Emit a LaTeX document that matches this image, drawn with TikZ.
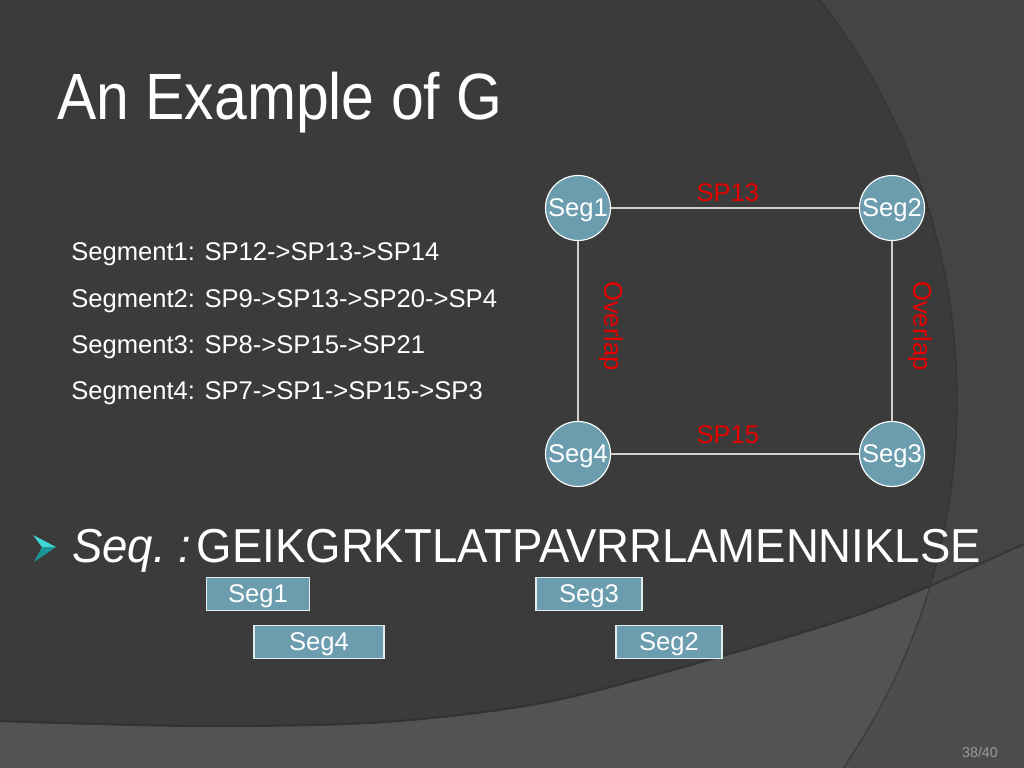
\documentclass[tikz,border=0pt]{standalone}
\usepackage{fontspec}
\setmainfont{Liberation Sans}
\newfontfamily\titlefont[FakeStretch=0.9]{Liberation Sans}
\newfontfamily\seqfont[FakeStretch=0.955]{Liberation Sans}
\definecolor{bgdark}{HTML}{3B3B3B}
\definecolor{bgright}{HTML}{444444}
\definecolor{band}{HTML}{535353}
\definecolor{bandright}{HTML}{4D4D4D}
\definecolor{arcline}{HTML}{2F2F2F}
\definecolor{nodefill}{HTML}{6C9DAF}
\definecolor{edgecol}{HTML}{D0D0D0}
\definecolor{lblred}{HTML}{E60000}
\definecolor{pagenum}{HTML}{9A9A9A}
\definecolor{bulletlight}{HTML}{3ED6D6}
\definecolor{bulletdark}{HTML}{1A9696}
\begin{document}
\begin{tikzpicture}[x=0.703125pt,y=-0.703125pt,
  segcircle/.style={circle, fill=nodefill, draw=white, line width=0.8pt,
    minimum size=45.7pt, inner sep=0pt, text=white, text depth=0pt, font=\fontsize{18}{20}\selectfont},
  segbox/.style={rectangle, fill=nodefill, draw=white!80!nodefill, line width=0.8pt,
    minimum height=23pt, inner sep=0pt, text=white, text depth=0pt, font=\fontsize{18}{20}\selectfont},
  edge/.style={draw=edgecol, line width=1.1pt},
  lbl/.style={text=lblred, font=\fontsize{18}{20}\selectfont, inner sep=0pt},
  seglist/.style={anchor=base west, inner sep=0pt, text=white, font=\fontsize{18}{20}\selectfont}]
\useasboundingbox (0,0) rectangle (1024,768);
% background
\fill[bgdark] (0,0) rectangle (1024,768);
\begin{scope}
  \clip (0,0) rectangle (1024,768);
  \fill[bgright, even odd rule] (-20,-20) rectangle (1044,788) (305,400) circle (652);
  \fill[band] plot[smooth] coordinates {(0,722) (200,727) (384,723) (547,703) (722,657) (874,610) (1024,545)}
    -- (1024,768) -- (0,768) -- cycle;
  \begin{scope}
    \clip plot[smooth] coordinates {(0,722) (200,727) (384,723) (547,703) (722,657) (874,610) (1024,545)}
      -- (1024,768) -- (0,768) -- cycle;
    \fill[bandright, even odd rule] (-20,-20) rectangle (1044,788) (305,400) circle (652);
  \end{scope}
  \draw[arcline, line width=1pt, opacity=0.6] (305,400) circle (652);
  \draw[arcline, line width=1.6pt, opacity=0.6] plot[smooth] coordinates {(0,721) (200,726) (384,722) (547,702) (722,656) (874,609) (1024,544)};
\end{scope}
% title
\node[anchor=base west, inner sep=0pt, text=white, font=\titlefont\fontsize{46}{50}\selectfont] (title) at (57,120) {An Example of G};
% segment list
\node[seglist] (l1) at (71,261) {Segment1: SP12->SP13->SP14};
\node[seglist] (l2) at (71,307) {Segment2: SP9->SP13->SP20->SP4};
\node[seglist] (l3) at (71,353) {Segment3: SP8->SP15->SP21};
\node[seglist] (l4) at (71,399) {Segment4: SP7->SP1->SP15->SP3};
% graph
\node[segcircle] (s1) at (578,208) {Seg1};
\node[segcircle] (s2) at (892,208) {Seg2};
\node[segcircle] (s4) at (578,454) {Seg4};
\node[segcircle] (s3) at (892,454) {Seg3};
\draw[edge] (s1) -- (s2) node[midway, lbl, xshift=-5pt, yshift=10.5pt] (e12) {SP13};
\draw[edge] (s4) -- (s3) node[midway, lbl, xshift=-5pt, yshift=13.4pt] (e43) {SP15};
\draw[edge] (s1) -- (s4) node[midway, lbl, xshift=23.2pt, yshift=3.5pt, rotate=-90] (e14) {Overlap};
\draw[edge] (s2) -- (s3) node[midway, lbl, xshift=19.7pt, yshift=3.5pt, rotate=-90] (e23) {Overlap};
% bullet
\fill[bulletlight] (33,535) -- (56,547) -- (42,547) -- cycle;
\fill[bulletdark] (42,547) -- (56,547) -- (34,562) -- cycle;
% sequence
\node[anchor=base west, inner sep=0pt, text=white, font=\seqfont\fontsize{33.5}{36}\selectfont] (seq) at (72,562) {\textit{Seq.\ :}\hspace{0.12em}GEIKGRKTLATPAVRRLAMENNIKLSE};
% boxes
\node[segbox, minimum width=73pt] (b1) at (258,594) {Seg1};
\node[segbox, minimum width=74.5pt] (b3) at (589,594) {Seg3};
\node[segbox, minimum width=91.4pt] (b4) at (319,642) {Seg4};
\node[segbox, minimum width=74.5pt] (b2) at (669,642) {Seg2};
% page number
\node[text=pagenum, font=\fontsize{10}{12}\selectfont, inner sep=0pt] (pg) at (980,752) {38/40};
\end{tikzpicture}
\end{document}
